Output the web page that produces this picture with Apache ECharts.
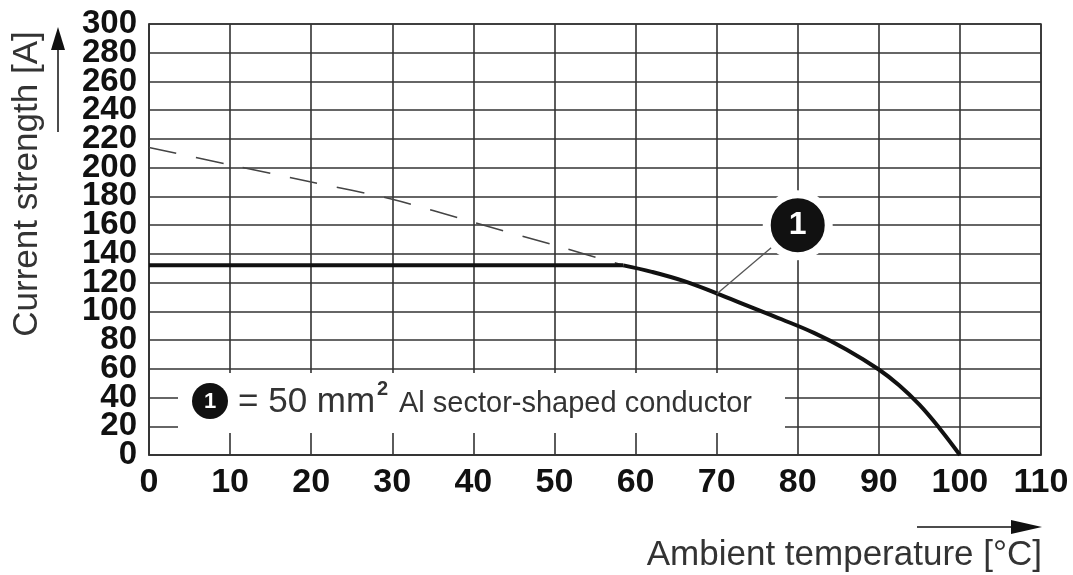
<!DOCTYPE html>
<html>
<head>
<meta charset="utf-8">
<script src="https://cdn.jsdelivr.net/npm/echarts@6/dist/echarts.min.js"></script>
<style>
html,body{margin:0;padding:0;background:#fff;}
#chart{width:1073px;height:575px;}
</style>
</head>
<body>
<div id="chart"></div>
<script>
// Data
const yTicksMin = 0, yTicksMax = 300, yTickStep = 20;
const xTicksMin = 0, xTicksMax = 110, xTickStep = 10;
const flatTemp = [0, 58.5];
const flatCurrent = [132, 132];
const curveTemp = [58.5, 62, 66, 70, 74, 78, 82, 86, 90, 92.5, 95, 97.5, 100];
const curveCurrent = [132, 127.5, 121, 112.5, 103.5, 94.5, 85, 73.5, 59.5, 48.5, 35, 18.5, 0];
const dashTemp = [0, 10, 20, 30, 40, 50, 58.5];
const dashCurrent = [214, 202, 190, 178, 162, 146, 132];
const calloutPoint = [80, 160];
const leaderStart = [70, 112];
const calloutLabel = '1';
const xTitle = 'Ambient temperature [°C]';
const yTitle = 'Current strength [A]';
const legendMain = '= 50 mm';
const legendSup = '2';
const legendRest = 'Al sector-shaped conductor';

const zip = (a, b) => a.map((v, i) => [v, b[i]]);
const FONT = '"Liberation Sans", Arial, sans-serif';

const yLabelStyle = {color: '#111', fontFamily: FONT, fontWeight: 'bold', fontSize: 33, margin: 12, hideOverlap: false};

const chart = echarts.init(document.getElementById('chart'), null, {renderer: 'canvas'});
chart.setOption({
  animation: false,
  backgroundColor: '#fff',
  grid: {left: 149, top: 24, right: 32, bottom: 120, show: true, borderColor: '#333', borderWidth: 1.5},
  xAxis: {
    type: 'value', min: xTicksMin, max: xTicksMax, interval: xTickStep,
    axisLine: {show: true, lineStyle: {color: '#333', width: 1.5}},
    axisTick: {show: false},
    splitLine: {show: true, lineStyle: {color: '#333', width: 1.6}},
    axisLabel: {color: '#111', fontFamily: FONT, fontWeight: 'bold', fontSize: 34, margin: 11,
                showMinLabel: true, showMaxLabel: true, hideOverlap: false}
  },
  yAxis: [
    {
      type: 'value', position: 'left', offset: 0, min: yTicksMin, max: yTicksMax, interval: yTickStep,
      axisLine: {show: true, lineStyle: {color: '#333', width: 1.5}},
      axisTick: {show: false},
      splitLine: {show: true, lineStyle: {color: '#333', width: 1.6}},
      axisLabel: Object.assign({}, yLabelStyle, {showMinLabel: true, showMaxLabel: false,
        formatter: v => (v % (2 * yTickStep) === 0 ? String(v) : '')})
    },
    {
      type: 'value', position: 'left', offset: 0, min: yTicksMin, max: yTicksMax, interval: yTickStep,
      axisLine: {show: false}, axisTick: {show: false}, splitLine: {show: false},
      axisLabel: Object.assign({}, yLabelStyle, {showMinLabel: false, showMaxLabel: true,
        formatter: v => (v % (2 * yTickStep) !== 0 ? String(v) : '')})
    }
  ],
  series: [
    {
      type: 'line', data: zip(dashTemp, dashCurrent), smooth: 0.3, symbol: 'none', z: 3,
      lineStyle: {color: '#444', width: 1.6, type: [28, 20]}
    },
    {
      type: 'line', data: zip(flatTemp, flatCurrent), symbol: 'none', z: 4,
      lineStyle: {color: '#111', width: 4}
    },
    {
      type: 'line', data: zip(curveTemp, curveCurrent), smooth: 0.4, symbol: 'none', z: 4,
      lineStyle: {color: '#111', width: 4}
    },
    {
      type: 'line', data: [leaderStart, calloutPoint], symbol: 'none', z: 5,
      lineStyle: {color: '#555', width: 1.3}
    },
    {
      type: 'scatter', data: [calloutPoint], symbol: 'circle', symbolSize: 62, z: 6,
      itemStyle: {color: '#111', borderColor: '#fff', borderWidth: 8, opacity: 1},
      label: {show: true, position: 'inside', formatter: calloutLabel, color: '#fff',
              fontFamily: FONT, fontWeight: 'bold', fontSize: 32}
    }
  ],
  graphic: [
    {type: 'rect', z: 10, shape: {x: 178, y: 373, width: 607, height: 60}, style: {fill: '#fff'}},
    {type: 'circle', z: 11, shape: {cx: 210, cy: 401, r: 18}, style: {fill: '#111'}},
    {type: 'text', z: 12, x: 210, y: 402, style: {text: calloutLabel, fill: '#fff', font: 'bold 22px ' + FONT, align: 'center', verticalAlign: 'middle'}},
    {type: 'text', z: 12, x: 238, y: 402, style: {text: legendMain, fill: '#333', font: '35px ' + FONT, align: 'left', verticalAlign: 'middle'}},
    {type: 'text', z: 12, x: 377, y: 389, style: {text: legendSup, fill: '#333', font: 'bold 20px ' + FONT, align: 'left', verticalAlign: 'middle'}},
    {type: 'text', z: 12, x: 399, y: 404, style: {text: legendRest, fill: '#333', font: '29px ' + FONT, align: 'left', verticalAlign: 'middle'}},
    {type: 'text', z: 12, x: 27, y: 184, rotation: Math.PI / 2, style: {text: yTitle, fill: '#333', font: '35px ' + FONT, align: 'center', verticalAlign: 'middle'}},
    {type: 'line', z: 12, shape: {x1: 58, y1: 132, x2: 58, y2: 45}, style: {stroke: '#111', lineWidth: 1.5}},
    {type: 'polygon', z: 12, shape: {points: [[58, 27], [51, 50], [65, 50]]}, style: {fill: '#111'}},
    {type: 'line', z: 12, shape: {x1: 917, y1: 527, x2: 1015, y2: 527}, style: {stroke: '#111', lineWidth: 1.5}},
    {type: 'polygon', z: 12, shape: {points: [[1042, 527], [1011, 520], [1011, 534]]}, style: {fill: '#111'}},
    {type: 'text', z: 12, x: 1042, y: 555, style: {text: xTitle, fill: '#333', font: '35px ' + FONT, align: 'right', verticalAlign: 'middle'}}
  ]
});
</script>
</body>
</html>
